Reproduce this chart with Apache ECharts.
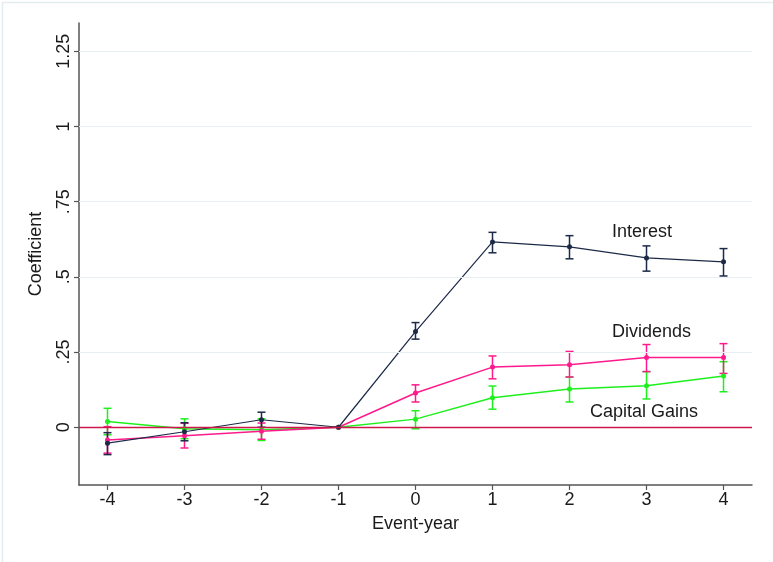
<!DOCTYPE html>
<html><head><meta charset="utf-8">
<script src="https://cdn.jsdelivr.net/npm/echarts@6/dist/echarts.min.js"></script>
<style>html,body{margin:0;padding:0;background:#fff}#c{width:773px;height:562px}</style>
</head><body><div id="c"></div>
<script>
const years = [-4, -3, -2, -1, 0, 1, 2, 3, 4];
const interest   = [-0.053, -0.015, 0.025, 0, 0.318, 0.616, 0.600, 0.563, 0.550];
const interestLo = [-0.091, -0.045, 0.000, 0, 0.293, 0.580, 0.560, 0.519, 0.503];
const interestHi = [-0.018,  0.015, 0.050, 0, 0.348, 0.648, 0.637, 0.603, 0.594];
const dividends   = [-0.042, -0.028, -0.013, 0, 0.114, 0.200, 0.208, 0.232, 0.232];
const dividendsLo = [-0.086, -0.069, -0.040, 0, 0.084, 0.161, 0.167, 0.185, 0.179];
const dividendsHi = [ 0.002,  0.013,  0.014, 0, 0.141, 0.237, 0.252, 0.275, 0.278];
const gains   = [ 0.019, -0.005, -0.008, 0, 0.027, 0.098, 0.127, 0.138, 0.170];
const gainsLo = [-0.025, -0.038, -0.044, 0, -0.005, 0.060, 0.084, 0.094, 0.118];
const gainsHi = [ 0.063,  0.028,  0.028, 0, 0.055, 0.137, 0.167, 0.185, 0.218];
const yTickValues = [0, 0.25, 0.5, 0.75, 1, 1.25];
const yTickLabels = ['0', '.25', '.5', '.75', '1', '1.25'];
const xTickValues = [-4, -3, -2, -1, 0, 1, 2, 3, 4];
const seriesNames = ['Interest', 'Dividends', 'Capital Gains'];

const FONT = 'Liberation Sans, Arial, sans-serif';
const colors = ['#1c2a48', '#ff1a8c', '#1ef01e'];
const vals = [interest, dividends, gains];
const los = [interestLo, dividendsLo, gainsLo];
const his = [interestHi, dividendsHi, gainsHi];

function errRender(color) {
  return function (params, api) {
    const x = api.value(0);
    const lo = api.coord([x, api.value(1)]);
    const hi = api.coord([x, api.value(2)]);
    const w = 4;
    const st = { stroke: color, lineWidth: 1.5 };
    return { type: 'group', children: [
      { type: 'line', shape: { x1: lo[0], y1: lo[1], x2: hi[0], y2: hi[1] }, style: st },
      { type: 'line', shape: { x1: lo[0] - w, y1: lo[1], x2: lo[0] + w, y2: lo[1] }, style: st },
      { type: 'line', shape: { x1: hi[0] - w, y1: hi[1], x2: hi[0] + w, y2: hi[1] }, style: st }
    ]};
  };
}

const series = [];
// grid lines + zero line
series.push({
  type: 'line', data: [], silent: true, z: 1,
  markLine: {
    silent: true, symbol: 'none', label: { show: false },
    lineStyle: { color: '#e6eff1', width: 1, type: 'solid' },
    data: yTickValues.map(v => v === 0
      ? { yAxis: v, lineStyle: { color: '#d0174c', width: 1.3, type: 'solid' } }
      : { yAxis: v })
  }
});
[2, 1, 0].forEach(i => {
  series.push({
    type: 'custom', name: seriesNames[i] + ' CI', z: 3,
    renderItem: errRender(colors[i]),
    data: years.map((y, k) => [y, los[i][k], his[i][k]])
  });
  series.push({
    type: 'line', name: seriesNames[i], z: 4,
    data: years.map((y, k) => [y, vals[i][k]]),
    symbol: 'circle', symbolSize: 5, showSymbol: true,
    itemStyle: { color: colors[i] },
    lineStyle: { color: colors[i], width: i === 0 ? 1.2 : 1.5 },
    emphasis: { disabled: true }
  });
});

const chart = echarts.init(document.getElementById('c'), null, { renderer: 'canvas' });
chart.setOption({
  animation: false,
  backgroundColor: '#ffffff',
  grid: { left: 79, right: 21, top: 23, bottom: 77 },
  xAxis: {
    type: 'value', min: -4.37, max: 4.37,
    name: 'Event-year', nameLocation: 'middle', nameGap: 30,
    nameTextStyle: { fontFamily: FONT, fontSize: 18, color: '#1a1a1a' },
    axisLine: { show: true, onZero: false, lineStyle: { color: '#555', width: 1.5 } },
    axisTick: { show: true, customValues: xTickValues, length: 5, lineStyle: { color: '#555', width: 1.2 } },
    axisLabel: { customValues: xTickValues, fontFamily: FONT, fontSize: 18, color: '#1a1a1a', margin: 6 },
    splitLine: { show: false }
  },
  yAxis: {
    type: 'value', min: -0.192, max: 1.344,
    name: 'Coefficient', nameLocation: 'middle', nameGap: 34, nameRotate: 90,
    nameTextStyle: { fontFamily: FONT, fontSize: 18, color: '#1a1a1a' },
    axisLine: { show: true, onZero: false, lineStyle: { color: '#555', width: 1.5 } },
    axisTick: { show: true, customValues: yTickValues, length: 5, lineStyle: { color: '#555', width: 1.2 } },
    axisLabel: {
      customValues: yTickValues, rotate: 90, fontFamily: FONT, fontSize: 18, color: '#1a1a1a', margin: 6,
      formatter: v => { const i = yTickValues.findIndex(t => Math.abs(t - v) < 1e-9); return i >= 0 ? yTickLabels[i] : ''; }
    },
    splitLine: { show: false }
  },
  graphic: [
    { type: 'rect', left: 0, top: 0, shape: { width: 772, height: 561 }, style: { fill: 'none', stroke: '#e3ecee', lineWidth: 1.5 }, silent: true },
    { type: 'text', left: 612, top: 223, style: { text: seriesNames[0], font: '18px ' + FONT, fill: '#1a1a1a' } },
    { type: 'text', left: 612, top: 323, style: { text: seriesNames[1], font: '18px ' + FONT, fill: '#1a1a1a' } },
    { type: 'text', left: 590, top: 403, style: { text: seriesNames[2], font: '18px ' + FONT, fill: '#1a1a1a' } }
  ],
  series: series
});
</script></body></html>
